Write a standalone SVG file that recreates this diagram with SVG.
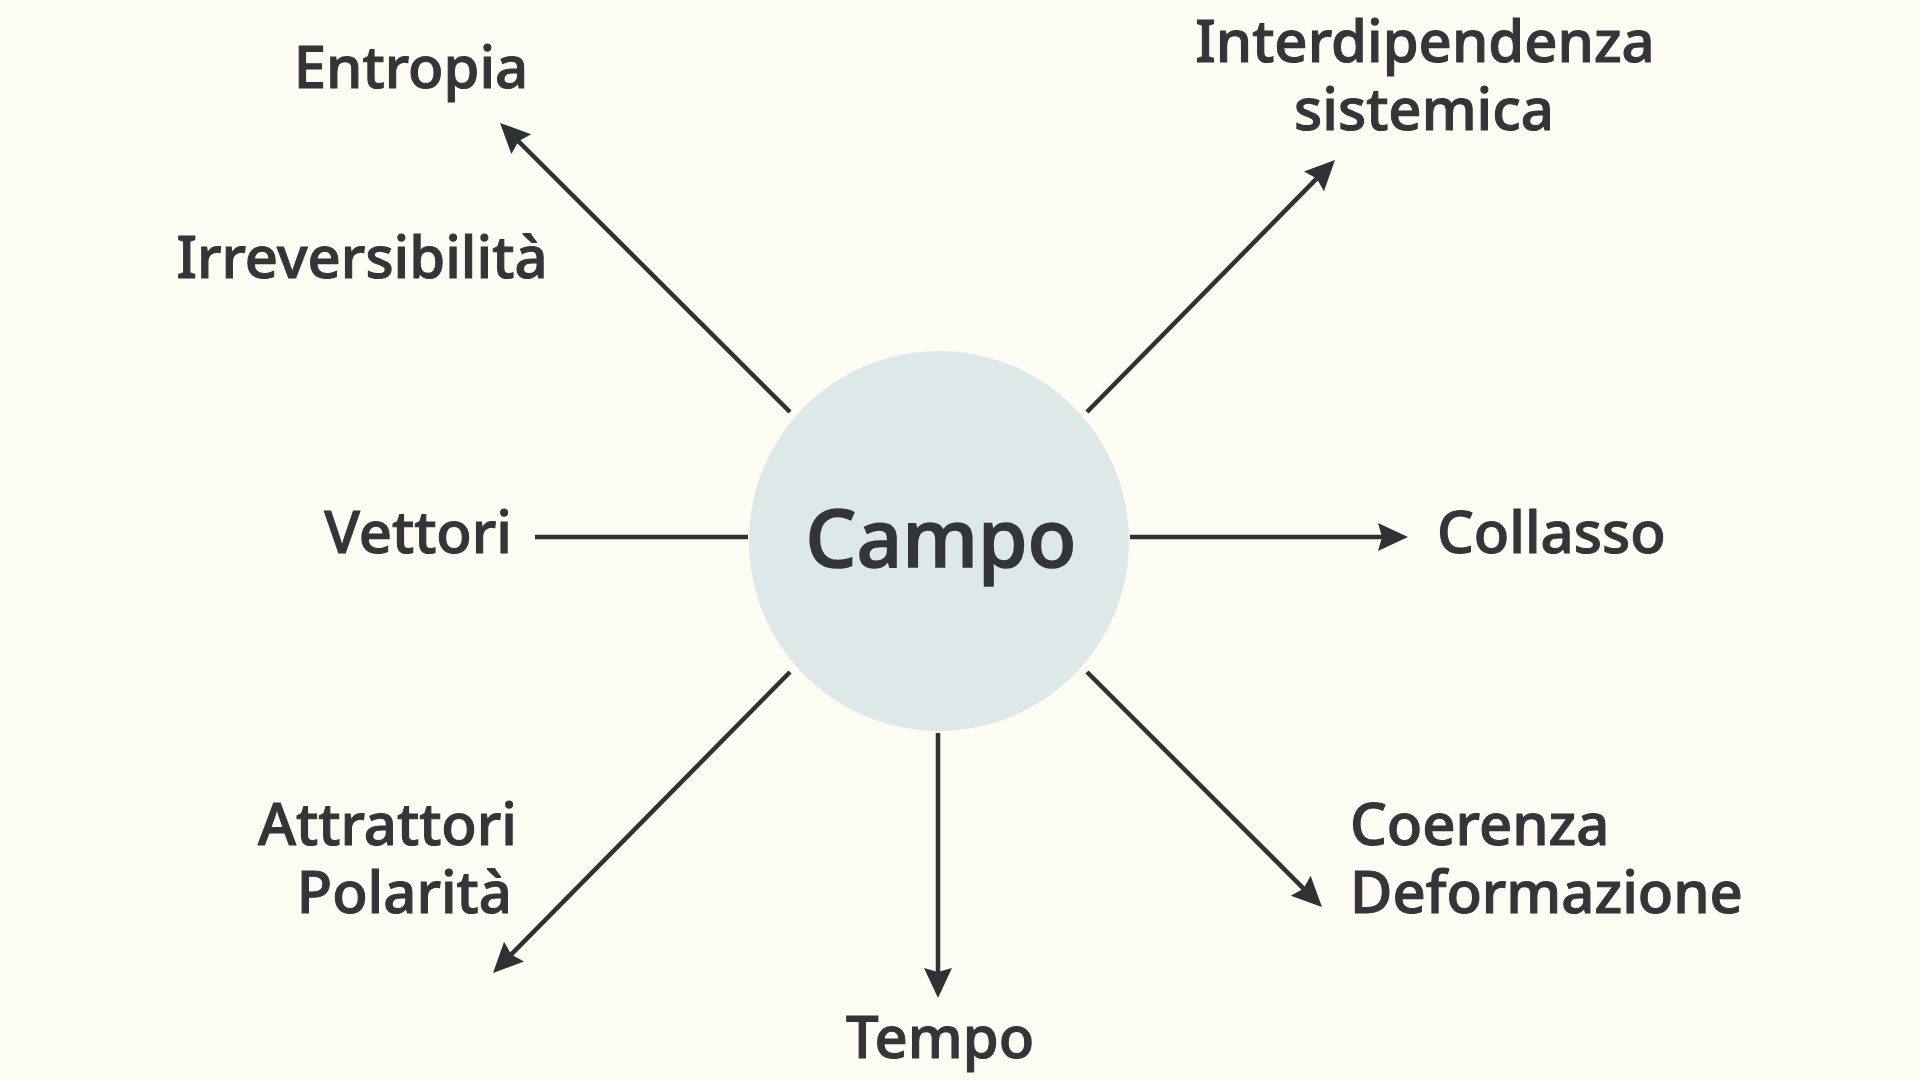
<svg xmlns="http://www.w3.org/2000/svg" width="1920" height="1080" viewBox="0 0 1920 1080">
<style>
.lbl{font-family:"Noto Sans","Open Sans","Liberation Sans",sans-serif;font-size:58px;fill:#333538;stroke:#333538;stroke-width:1.1px;font-weight:500}
.ttl{font-family:"Noto Sans","Open Sans","Liberation Sans",sans-serif;font-size:80px;fill:#333538;stroke:#333538;stroke-width:1.6px;font-weight:500}
.con{stroke:#2f3234;stroke-width:4.5;fill:none}
</style>
<defs>
<marker id="ah" markerUnits="userSpaceOnUse" markerWidth="32" markerHeight="30" viewBox="0 0 32 30" refX="22" refY="15" orient="auto">
<path d="M30,15 L0,1 L4,15 L0,29 Z" fill="#2f3234"/>
</marker>
</defs>
<rect width="1920" height="1080" fill="#fdfcf2"/>
<g id="connectors">
<line class="con" x1="790" y1="412" x2="505.7" y2="128.6" marker-end="url(#ah)"/>
<line class="con" x1="1087" y1="412" x2="1329.4" y2="165.7" marker-end="url(#ah)"/>
<line class="con" x1="1130" y1="537" x2="1400" y2="537" marker-end="url(#ah)"/>
<line class="con" x1="535" y1="537" x2="748" y2="537"/>
<line class="con" x1="790" y1="672" x2="498.6" y2="967.3" marker-end="url(#ah)"/>
<line class="con" x1="938" y1="733" x2="938" y2="990" marker-end="url(#ah)"/>
<line class="con" x1="1087" y1="672" x2="1316.3" y2="901.3" marker-end="url(#ah)"/>
</g>
<g id="campo">
<circle cx="939" cy="541" r="190" fill="#dde8e8"/>
<text class="ttl" x="941" y="567" text-anchor="middle">Campo</text>
</g>
<g id="entropia"><text class="lbl" x="411" y="88" text-anchor="middle">Entropia</text></g>
<g id="irreversibilita"><text class="lbl" x="362" y="278" text-anchor="middle">Irreversibilità</text></g>
<g id="interdipendenza"><text class="lbl" x="1425" y="62" text-anchor="middle">Interdipendenza</text><text class="lbl" x="1424" y="130" text-anchor="middle">sistemica</text></g>
<g id="vettori"><text class="lbl" x="512" y="553" text-anchor="end">Vettori</text></g>
<g id="collasso"><text class="lbl" x="1437" y="553">Collasso</text></g>
<g id="attrattori"><text class="lbl" x="517" y="845" text-anchor="end">Attrattori</text><text class="lbl" x="512" y="913" text-anchor="end">Polarità</text></g>
<g id="tempo"><text class="lbl" x="940" y="1058" text-anchor="middle">Tempo</text></g>
<g id="coerenza"><text class="lbl" x="1350" y="845">Coerenza</text><text class="lbl" x="1350" y="913">Deformazione</text></g>
</svg>
